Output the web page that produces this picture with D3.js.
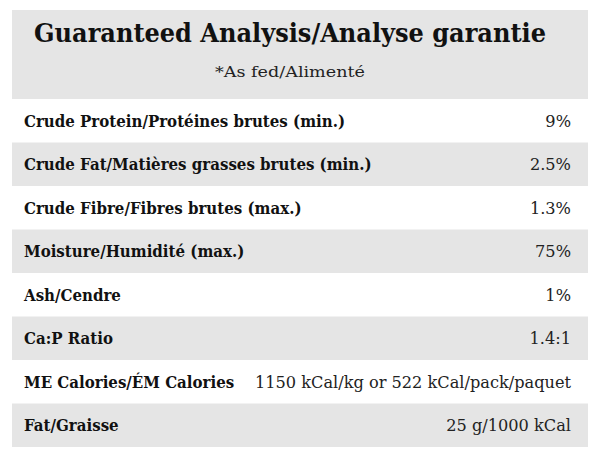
<!DOCTYPE html>
<html>
<head>
<script src="https://d3js.org/d3.v7.min.js"></script>
<style>body{margin:0;background:#fff}</style>
</head>
<body>
<div id="chart"></div>
<script>
var title = "Guaranteed Analysis/Analyse garantie";
var subtitle = "*As fed/Alimenté";
var labels = ["Crude Protein/Protéines brutes (min.)", "Crude Fat/Matières grasses brutes (min.)",
  "Crude Fibre/Fibres brutes (max.)", "Moisture/Humidité (max.)", "Ash/Cendre", "Ca:P Ratio",
  "ME Calories/ÉM Calories", "Fat/Graisse"];
var values = ["9%", "2.5%", "1.3%", "75%", "1%", "1.4:1",
  "1150 kCal/kg or 522 kCal/pack/paquet", "25 g/1000 kCal"];

var width = 600, height = 462;
var font = "'DejaVu Serif', serif";
var svg = d3.select("#chart").append("svg")
  .attr("width", width).attr("height", height);

// header block
svg.append("rect").attr("x", 12).attr("y", 10).attr("width", 576).attr("height", 89).attr("fill", "#e5e5e5");
svg.append("text").attr("x", 290).attr("y", 42).attr("text-anchor", "middle")
  .style("font-family", font).style("font-weight", "bold").style("font-size", "26px")
  .attr("textLength", 512).attr("lengthAdjust", "spacingAndGlyphs")
  .attr("fill", "#111").text(title);
svg.append("text").attr("x", 290).attr("y", 77).attr("text-anchor", "middle")
  .style("font-family", font).style("font-size", "15px").attr("fill", "#222")
  .attr("textLength", 150).attr("lengthAdjust", "spacingAndGlyphs").text(subtitle);

var y = d3.scaleBand().domain(d3.range(labels.length)).range([99, 447]);

var rows = svg.selectAll("g.row").data(labels).enter().append("g")
  .attr("transform", function(d, i) { return "translate(0," + y(i) + ")"; });

rows.append("rect").attr("x", 12).attr("width", 576).attr("height", y.bandwidth())
  .attr("fill", function(d, i) { return i % 2 ? "#e5e5e5" : "#fff"; });

var labelText = rows.append("text").attr("x", 24).attr("y", y.bandwidth() / 2 + 6)
  .style("font-family", font).style("font-weight", "bold").style("font-size", "16px")
  .attr("fill", "#111").text(function(d) { return d; });
// squeeze to match the narrower slab face: first label spans ~321px
var k = 321 / labelText.nodes()[0].getComputedTextLength();
labelText.each(function() {
  d3.select(this).attr("textLength", this.getComputedTextLength() * k).attr("lengthAdjust", "spacingAndGlyphs");
});

var valueText = rows.append("text").attr("x", 571).attr("y", y.bandwidth() / 2 + 6).attr("text-anchor", "end")
  .style("font-family", font).style("font-size", "16px").attr("fill", "#222")
  .text(function(d, i) { return values[i]; });
var kv = 316 / valueText.nodes()[6].getComputedTextLength();
valueText.each(function() {
  d3.select(this).attr("textLength", this.getComputedTextLength() * kv).attr("lengthAdjust", "spacingAndGlyphs");
});
</script>
</body>
</html>
